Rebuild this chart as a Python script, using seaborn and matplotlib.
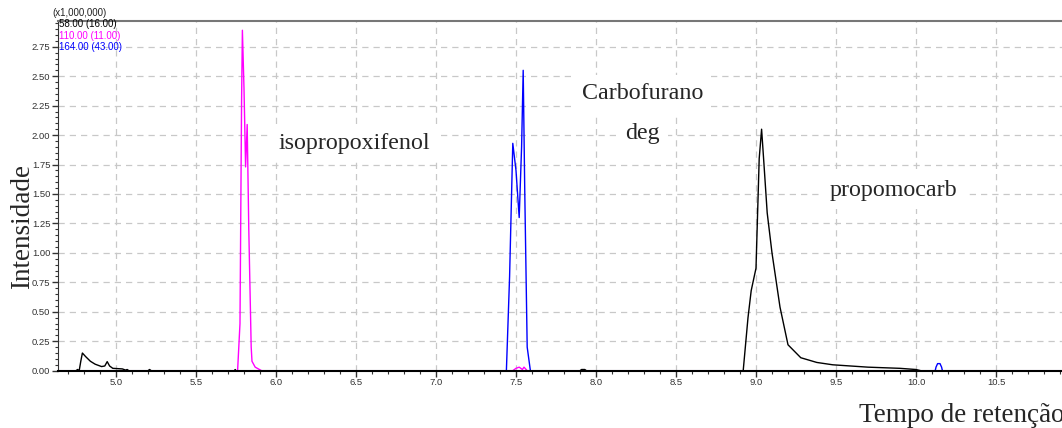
"""
Chromatogram (TIC by ion) recreated with seaborn + matplotlib.
Saves out.png at 1062x428.
"""

import matplotlib
matplotlib.use("Agg")
import matplotlib.pyplot as plt
import pandas as pd
import seaborn as sns
from matplotlib.ticker import MultipleLocator, FormatStrFormatter

# ion 58.00 (16.00) - black
t_58 = [4.64, 4.75, 4.76, 4.77, 4.78, 4.79, 4.81, 4.84, 4.87, 4.91, 4.93, 4.945, 4.96, 4.98,
        5.04, 5.06, 5.07, 5.08, 5.20, 5.21, 5.22, 5.74, 5.745, 5.75, 7.90, 7.91, 7.93, 7.94,
        8.92, 8.95, 8.97, 9.00, 9.02, 9.035, 9.05, 9.07, 9.10, 9.15, 9.20, 9.28, 9.38, 9.48,
        9.70, 9.90, 10.00, 10.03, 10.91]
i_58 = [0.0, 0.0, 0.01, 0.0, 0.08, 0.15, 0.12, 0.08, 0.055, 0.035, 0.04, 0.077, 0.04, 0.02,
        0.015, 0.005, 0.01, 0.0, 0.0, 0.01, 0.0, 0.0, 0.01, 0.0, 0.0, 0.01, 0.01, 0.0,
        0.0, 0.45, 0.68, 0.87, 1.80, 2.05, 1.75, 1.34, 1.00, 0.54, 0.22, 0.11, 0.07, 0.05,
        0.03, 0.02, 0.01, 0.0, 0.0]

# ion 110.00 (11.00) - magenta
t_110 = [4.64, 5.76, 5.775, 5.785, 5.79, 5.80, 5.81, 5.82, 5.83, 5.845, 5.85, 5.87, 5.91,
         7.48, 7.50, 7.52, 7.54, 7.55, 7.57, 10.91]
i_110 = [0.0, 0.0, 0.40, 2.30, 2.89, 2.40, 1.73, 2.09, 1.20, 0.20, 0.08, 0.03, 0.0,
         0.0, 0.02, 0.03, 0.01, 0.03, 0.0, 0.0]

# ion 164.00 (43.00) - blue
t_164 = [4.64, 7.44, 7.46, 7.48, 7.50, 7.52, 7.535, 7.545, 7.555, 7.57, 7.58, 7.59,
         10.12, 10.125, 10.135, 10.15, 10.16, 10.165, 10.91]
i_164 = [0.0, 0.0, 0.80, 1.93, 1.70, 1.30, 1.90, 2.55, 1.50, 0.20, 0.10, 0.0,
         0.0, 0.03, 0.06, 0.06, 0.03, 0.0, 0.0]

ion_labels = ["58.00 (16.00)", "110.00 (11.00)", "164.00 (43.00)"]
ion_colors = ["black", "#ff00ff", "#0000ff"]

compounds = ["isopropoxifenol", "Carbofurano", "deg", "propomocarb"]
compound_x = [6.49, 8.29, 8.29, 9.86]
compound_y = [1.93, 2.35, 2.01, 1.53]

sns.set_style("white")
plt.rcParams["font.family"] = ["Liberation Sans", "DejaVu Sans"]

fig = plt.figure(figsize=(10.62, 4.28), dpi=100)
ax = fig.add_axes([0.0546, 0.1339, 0.9454, 0.8177])

series = [(t_58, i_58), (t_110, i_110), (t_164, i_164)]
for (t, i), lab, col in zip(series, ion_labels, ion_colors):
    df = pd.DataFrame({"time": t, "intensity": i})
    sns.lineplot(data=df, x="time", y="intensity", ax=ax, color=col, linewidth=1.0,
                 sort=False, estimator=None, legend=False)

ax.set_xlim(4.6375, 10.9125)
ax.set_ylim(0, 2.971)
ax.xaxis.set_major_locator(MultipleLocator(0.5))
ax.xaxis.set_minor_locator(MultipleLocator(0.1))
ax.yaxis.set_major_locator(MultipleLocator(0.25))
ax.yaxis.set_minor_locator(MultipleLocator(0.05))
ax.xaxis.set_major_formatter(FormatStrFormatter("%.1f"))
ax.yaxis.set_major_formatter(FormatStrFormatter("%.2f"))
ax.tick_params(axis="both", which="major", direction="out", length=4, width=1,
               labelsize=6.8, labelcolor="#333333", color="#333333", pad=1.5)
ax.tick_params(axis="both", which="minor", direction="out", length=2.5, width=0.8,
               color="#333333")
ax.tick_params(axis="y", which="both", left=True)
ax.tick_params(axis="x", which="both", bottom=True)
ax.grid(True, which="major", color="#c8c8c8", linestyle=(0, (5, 4)), linewidth=0.9)

ax.spines["right"].set_visible(False)
ax.spines["top"].set_color("#777777")
ax.spines["top"].set_linewidth(1.5)
ax.spines["left"].set_color("#333333")
ax.spines["bottom"].set_color("black")
ax.spines["bottom"].set_linewidth(1.5)
ax.set_xlabel("")
ax.set_ylabel("")

serif = ["Liberation Serif", "DejaVu Serif"]
for name, x, y in zip(compounds, compound_x, compound_y):
    ax.text(x, y, name, ha="center", va="center", fontsize=17.3, family=serif,
            bbox=dict(facecolor="white", edgecolor="none", pad=6))

fig.text(0.0215, 0.470, "Intensidade", rotation=90, ha="center", va="center",
         fontsize=19.5, family=serif)
fig.text(0.809, 0.030, "Tempo de retenção", ha="left", va="center",
         fontsize=19.5, family=serif)

# multiplier and ion labels, top left
fig.text(0.049, 0.969, "(x1,000,000)", fontsize=7.0, ha="left", va="center", color="#222222")
for k, (lab, col) in enumerate(zip(ion_labels, ion_colors)):
    fig.text(0.0555, 0.943 - k * 0.026, lab, fontsize=7.0, ha="left", va="center", color=col)

fig.savefig("out.png", dpi=100)
